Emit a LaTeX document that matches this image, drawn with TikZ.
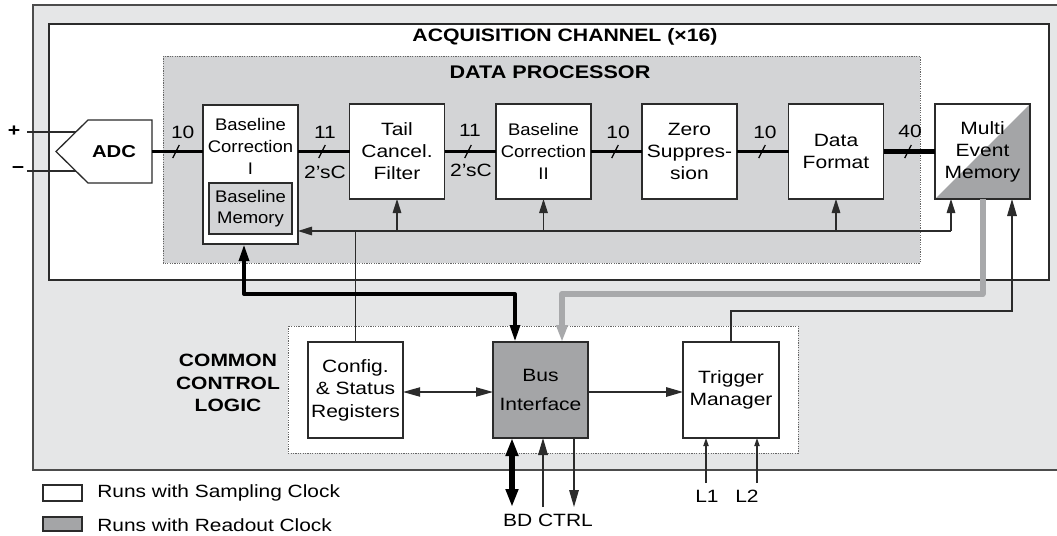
\documentclass[tikz,border=0pt]{standalone}
\usepackage{fontspec}
\setmainfont{Liberation Sans}[FakeStretch=1.18]
\newfontfamily\narrowf{Liberation Sans}[FakeStretch=1.1]
\usetikzlibrary{arrows.meta,calc}
\definecolor{outerg}{HTML}{E5E6E7}
\definecolor{dpg}{HTML}{D3D4D6}
\definecolor{darkg}{HTML}{A4A5A7}
\definecolor{busg}{HTML}{A8A9AB}
\definecolor{edge}{HTML}{2B2B2B}
\tikzset{
  box/.style={draw=edge, line width=0.65pt, fill=white, inner sep=0pt, outer sep=0pt,
    minimum width=47.5pt, minimum height=47.5pt, align=center,
    font=\fontsize{8.9}{11}\selectfont},
  bcfont/.style={font=\narrowf\fontsize{8.4}{11}\selectfont, align=center, inner sep=0pt},
  txt/.style={inner sep=0pt, font=\fontsize{8.9}{11}\selectfont},
  boldtxt/.style={inner sep=0pt, align=center, font=\bfseries\fontsize{8.9}{11.25}\selectfont},
  lthin/.style={line width=0.6pt, draw=edge},
  bus/.style={line width=1.7pt, draw=black},
  wbus/.style={line width=2.9pt, draw=black},
  slashl/.style={line width=0.6pt, draw=black},
  arrS/.style={-{Triangle[length=7pt,width=4.3pt]}},
  arrM/.style={-{Triangle[length=8.5pt,width=4.8pt]}},
  darrM/.style={{Triangle[length=8.5pt,width=4.6pt]}-{Triangle[length=8.5pt,width=4.6pt]}},
  arrT/.style={-{Triangle[length=4pt,width=2.6pt]}},
  thickbus/.style={line width=2pt, draw=black, line join=round},
  graybus/.style={line width=3pt, draw=busg, line join=round},
}
\begin{document}
\begin{tikzpicture}[x=0.5pt,y=-0.5pt]
\useasboundingbox (0,0) rectangle (1057,536);
% outer region
\fill[outerg] (33,5) rectangle (1057,470);
\draw[line width=1pt, draw=black!70] (1057,5) -- (33,5) -- (33,470) -- (1057,470);
% acquisition channel
\draw[fill=white, draw=edge, line width=0.7pt] (49,24) rectangle (1049,280);
\node[boldtxt, font=\bfseries\fontsize{9}{11}\selectfont] (acqt) at (565,37) {ACQUISITION CHANNEL (×16)};
% data processor
\draw[fill=dpg, draw=black!60, line width=0.5pt, dash pattern=on 0.6pt off 0.6pt] (163,56) rectangle (920,263);
\node[boldtxt, font=\bfseries\fontsize{9.15}{11}\selectfont] (dpt) at (550,72) {DATA PROCESSOR};
% common control logic
\draw[fill=white, draw=black!60, line width=0.5pt, dash pattern=on 0.6pt off 0.6pt] (288,326) rectangle (798,453);
\node[boldtxt] (cclt) at (228,383) {COMMON\\CONTROL\\LOGIC};

% ADC
\node[inner sep=0pt, outer sep=0pt, minimum width=32pt, minimum height=31.5pt] (adc) at (120,151.5) {};
\draw[fill=white, draw=edge, line width=0.65pt] (adc.north east) -- (adc.south east) -- (adc.south west)
  -- ($(adc.west)+(-32,0)$) -- (adc.north west) -- cycle;
\node[inner sep=0pt, font=\bfseries\fontsize{8.6}{10}\selectfont] (adct) at ($(adc.center)+(-6,0)$) {ADC};
\coordinate (inp0) at (27,132); \coordinate (inp1) at (76,132);
\coordinate (inm0) at (27,171); \coordinate (inm1) at (75.6,171);
\draw[lthin] (inp0) -- (inp1);
\draw[lthin] (inm0) -- (inm1);
\node[inner sep=0pt, font=\bfseries\fontsize{9}{10}\selectfont] (plus) at (14,131) {+};
\node[inner sep=0pt, font=\bfseries\fontsize{9}{10}\selectfont] (minus) at (18,170) {−};

% Baseline Correction I
\node[box, minimum height=69.5pt] (bci) at (250.5,174.5) {};
\node[bcfont] (bcit) at (250.5,146) {Baseline\\Correction\\I};
\node[box, fill=dpg, minimum width=41.5pt, minimum height=25.5pt, font=\narrowf\fontsize{8.4}{10.5}\selectfont] (bmem) at (250.5,208.5) {Baseline\\Memory};

% processing boxes
\node[box] (tcf) at (397,151.5) {Tail\\Cancel.\\Filter};
\node[box, font=\narrowf\fontsize{8.4}{11}\selectfont] (bc2) at (543.5,151.5) {Baseline\\Correction\\II};
\node[box] (zs) at (689.5,151.5) {Zero\\Suppres-\\sion};
\node[box] (df) at (836,151.5) {Data\\Format};
\node[box, path picture={\fill[darkg] (path picture bounding box.south west) -- (path picture bounding box.north east) -- (path picture bounding box.south east) -- cycle;}] (mem) at (982.5,151.5) {\raisebox{-1.5pt}{\parbox{47pt}{\centering Multi\\Event\\Memory}}};

% data buses
\draw[bus] (adc.east) -- (adc.east -| bci.west);
\draw[bus] (bci.east |- tcf.west) -- (tcf.west);
\draw[bus] (tcf.east) -- (bc2.west);
\draw[bus] (bc2.east) -- (zs.west);
\draw[bus] (zs.east) -- (df.west);
\draw[wbus] (df.east) -- (mem.west);
\foreach \sx in {176,322,468,615,762,908} {
  \draw[slashl] (\sx-3.3,158) -- (\sx+3.3,145);
}
\node[txt] (w1) at (182.7,132) {10};
\node[txt] (w2) at (325,132) {11};
\node[txt] (w2b) at (325,172) {2'sC};
\node[txt] (w3) at (470,130) {11};
\node[txt] (w3b) at (471,170) {2'sC};
\node[txt] (w4) at (618,132) {10};
\node[txt] (w5) at (765,132) {10};
\node[txt] (w6) at (910,131) {40};

% common control boxes
\node[box, minimum height=48pt, font=\fontsize{8.9}{11.2}\selectfont] (cfg) at (355.5,390) {Config.\\\& Status\\Registers};
\node[box, fill=darkg, minimum height=48pt] (bi) at (540.5,390) {Bus\\[3.5pt]Interface};
\node[box, minimum width=48pt, minimum height=48pt] (trig) at (731,390) {Trigger\\Manager};

% control distribution line
\coordinate (ctl) at (355.5,231);
\coordinate (memin) at (951,199);
\draw[lthin] (cfg.north) -- (ctl);
\draw[lthin, arrS] (ctl) -- (ctl -| bci.east);
\draw[lthin] (ctl) -- (ctl -| memin);
\draw[lthin, arrS] (ctl -| tcf.south) -- (tcf.south);
\draw[lthin, arrS] (ctl -| bc2.south) -- (bc2.south);
\draw[lthin, arrS] (ctl -| df.south) -- (df.south);
\draw[lthin, arrS] (ctl -| memin) -- (memin);

% thick bus BCI <-> Bus Interface
\coordinate (bcib) at ($(bci.south)+(-6.5,0)$);
\coordinate (bit) at ($(bi.north)+(-25.5,0)$);
\draw[thickbus, {Triangle[length=8.5pt,width=4.8pt]}-{Triangle[length=8.5pt,width=4.8pt]}] (bcib) -- ++(0,50) -| (bit);
% gray readout bus
\coordinate (bigt) at ($(bi.north)+(21.5,0)$);
\draw[graybus, -{Triangle[length=8.5pt,width=5.5pt]}] (mem.south) -- ++(0,95) -| (bigt);
% trigger line
\coordinate (memt) at ($(mem.south)+(29.5,0)$);
\draw[lthin, arrM] (trig.north) -- ++(0,-31) -| (memt);

% horizontal links
\draw[lthin, darrM] ([yshift=-1pt]cfg.east) -- ([yshift=-1pt]bi.west);
\draw[lthin, arrM] ([yshift=-1pt]bi.east) -- ([yshift=-1pt]trig.west);

% bus interface I/O
\coordinate (bdb) at (512,507);
\coordinate (cib) at (543,507);
\coordinate (cob) at (574,507);
\draw[line width=3pt, {Triangle[length=9pt,width=6pt]}-{Triangle[length=9pt,width=6pt]}] (bdb |- bi.south) -- (bdb);
\draw[lthin, arrM] (cib) -- (cib |- bi.south);
\draw[lthin, arrM] (cob |- bi.south) -- (cob);
\node[txt] (bdl) at (548,520) {BD CTRL};

% trigger inputs
\coordinate (l1) at (706,483);
\coordinate (l2) at (757,483);
\draw[lthin, arrT] (l1) -- (l1 |- trig.south);
\draw[lthin, arrT] (l2) -- (l2 |- trig.south);
\node[txt] (l1t) at (707,496) {L1};
\node[txt] (l2t) at (747,496) {L2};

% legend
\node[draw=edge, line width=0.6pt, fill=white, inner sep=0pt, minimum width=19.5pt, minimum height=8pt] (leg1) at (62.5,493) {};
\node[draw=edge, line width=0.6pt, fill=darkg, inner sep=0pt, minimum width=19.5pt, minimum height=7pt] (leg2) at (62.5,524) {};
\node[txt, anchor=west, font=\fontsize{8.85}{11}\selectfont] (leg1t) at (97,493) {Runs with Sampling Clock};
\node[txt, anchor=west, font=\fontsize{8.85}{11}\selectfont] (leg2t) at (97,525) {Runs with Readout Clock};
\end{tikzpicture}
\end{document}
